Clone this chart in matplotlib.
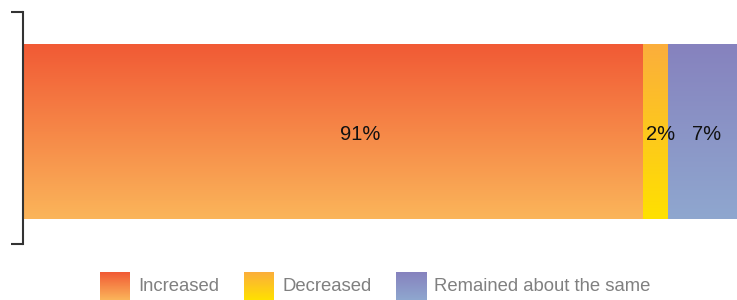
import numpy as np
import matplotlib
matplotlib.use("Agg")
import matplotlib.pyplot as plt
from matplotlib.colors import LinearSegmentedColormap

plt.rcParams['font.family'] = ['Liberation Sans', 'DejaVu Sans']

# data
categories = ["Increased", "Decreased", "Remained about the same"]
labels = ["91%", "2%", "7%"]
widths = [86.8, 3.5, 9.7]          # drawn segment widths (share of bar)
label_shift = [3.8, 0.8, 0.6]      # label offset from segment centre
top_colors = ["#F15A35", "#FBAE3C", "#8682BE"]
bottom_colors = ["#FBB55A", "#FFE100", "#8FA7CF"]

W, H = 737, 300
fig = plt.figure(figsize=(W / 100, H / 100), dpi=100)
ax = fig.add_axes([23 / W, 56 / H, 714 / W, 232 / H])

bar_h = 0.754
ylo, yhi = -0.485, 0.515


def grad_cmap(top, bottom):
    return LinearSegmentedColormap.from_list("g", [bottom, top])


grad = np.linspace(0, 1, 256).reshape(-1, 1)

# stacked segments with vertical gradients
left = 0
for w, ct, cb in zip(widths, top_colors, bottom_colors):
    ax.imshow(grad, cmap=grad_cmap(ct, cb), origin="lower", aspect="auto",
              extent=(left, left + w, -bar_h / 2, bar_h / 2), interpolation="bilinear")
    left += w

# value labels
left = 0
for w, lab, dx in zip(widths, labels, label_shift):
    ax.text(left + w / 2 + dx, -0.012, lab, ha="center", va="center",
            fontsize=14.5, color="#111111")
    left += w

ax.set_xlim(0, sum(widths))
ax.set_ylim(ylo, yhi)
for s in ["top", "right", "bottom"]:
    ax.spines[s].set_visible(False)
ax.spines["left"].set_color("#333333")
ax.spines["left"].set_linewidth(1.5)
ax.set_xticks([])
ax.set_yticks([ylo, yhi])
ax.set_yticklabels([])
ax.tick_params(axis="y", length=8.5, width=1.5, color="#333333")

# legend along the bottom
fig.canvas.draw()
renderer = fig.canvas.get_renderer()
sq, gap_txt, gap_item = 30, 8, 25
fs = 13.3
widths_txt = []
for c in categories:
    t = fig.text(0, 0, c, fontsize=fs)
    widths_txt.append(t.get_window_extent(renderer).width)
    t.remove()
x = 100
for c, tw, ct, cb in zip(categories, widths_txt, top_colors, bottom_colors):
    lax = fig.add_axes([x / W, 0 / H, sq / W, 28 / H])
    lax.imshow(grad, cmap=grad_cmap(ct, cb), origin="lower", aspect="auto",
               extent=(0, 1, 0, 1), interpolation="bilinear")
    lax.set_axis_off()
    fig.text((x + sq + gap_txt) / W, 13.5 / H, c, fontsize=fs, color="#808080",
             ha="left", va="center")
    x += sq + gap_txt + tw + gap_item

fig.savefig("out.png", dpi=100)
